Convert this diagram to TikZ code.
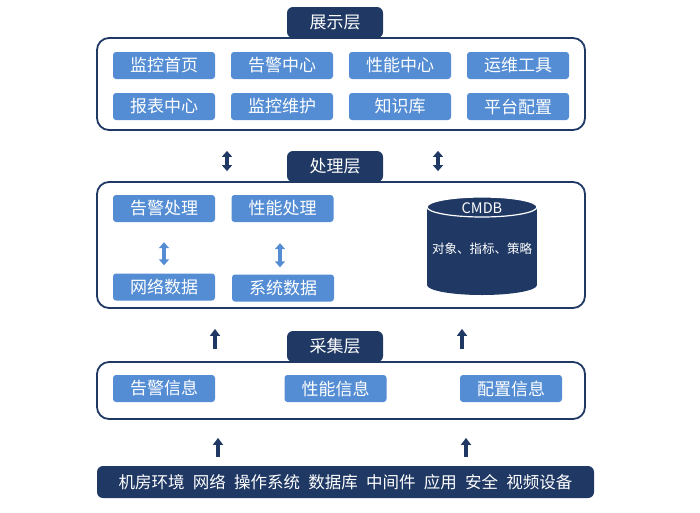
\documentclass[tikz,border=0pt]{standalone}
\usepackage{fontspec}
\setmainfont{Noto Sans CJK SC}
\usepackage{tikz}
\usepackage{xcolor}
\usetikzlibrary{arrows.meta, positioning, calc}

\definecolor{navy}{RGB}{31,56,100}
\definecolor{itemblue}{RGB}{84,141,212}

\begin{document}
\begin{tikzpicture}[x=1pt, y=-1pt,
    frame/.style={draw=navy, line width=1.8pt, fill=white, rounded corners=12pt, inner sep=0pt},
    item/.style={fill=itemblue, text=white, rounded corners=3pt, minimum width=102pt, minimum height=27pt, inner sep=0pt, font=\fontsize{17}{19}\selectfont},
    labtext/.style={text=white, font=\fontsize{17}{19}\selectfont},
    uparrow/.style={navy, line width=4pt, -{Triangle[length=7pt, width=10pt]}},
    dblarrow/.style={line width=4pt, {Triangle[length=6pt, width=10pt]}-{Triangle[length=6pt, width=10pt]}}]
\useasboundingbox (0,0) rectangle (700,512);

% layer frames
\node (f1) [frame, minimum width=488pt, minimum height=92pt] at (341,84) {};
\node (f2) [frame, minimum width=488pt, minimum height=126pt] at (341,245) {};
\node (f3) [frame, minimum width=488pt, minimum height=57pt] at (341,390.5) {};

% layer titles
\fill[navy, rounded corners=6pt] (287,38) |- (335,7) -| (383,38) -- cycle;
\node (l1) [labtext] at (335,22.5) {展示层};
\fill[navy, rounded corners=6pt] (287,182) |- (335,151) -| (383,182) -- cycle;
\node (l2) [labtext] at (335,166.5) {处理层};
\fill[navy, rounded corners=6pt] (287,362) |- (335,331) -| (383,362) -- cycle;
\node (l3) [labtext] at (335,346.5) {采集层};

% presentation layer
\foreach \t [count=\i] in {监控首页,告警中心,性能中心,运维工具} {
    \node (s\i) [item] at ({164+(\i-1)*118},65.5) {\t};
}
\foreach \t [count=\i] in {报表中心,监控维护,知识库,平台配置} {
    \node (r\i) [item] at ({164+(\i-1)*118},106.5) {\t};
}

% processing layer
\node (p1) [item] at (164,208.5) {告警处理};
\node (p2) [item] at (282.5,208.5) {性能处理};
\node (n1) [item] at (164,287) {网络数据};
\node (n2) [item] at (283,288) {系统数据};
\draw[dblarrow, itemblue, shorten <=20pt, shorten >=8pt] (p1.south) -- (n1.north);
\draw[dblarrow, itemblue, shorten <=21pt, shorten >=7pt] (p2.south -| 280,0) -- (n2.north -| 280,0);

% CMDB cylinder
\fill[navy] (427,207) rectangle (537,285);
\fill[navy] (482,285) ellipse[x radius=55, y radius=10];
\filldraw[fill=navy, draw=white, line width=1.2pt] (482,207) ellipse[x radius=55, y radius=10];
\node (cmdb) [text=white, font=\fontsize{14.5}{16}\selectfont] at (482,208) {CMDB};
\node (cmdbtxt) [text=white, font=\fontsize{12.5}{15}\selectfont] at (482,249) {对象、指标、策略};

% collection layer
\node (c1) [item] at (164,388.5) {告警信息};
\node (c2) [item] at (335.5,388.5) {性能信息};
\node (c3) [item] at (511,388.5) {配置信息};

% sources
\node (src) [fill=navy, text=white, rounded corners=6pt, minimum width=497pt, minimum height=32pt, inner sep=0pt, font=\fontsize{16.5}{18}\selectfont] at (345.5,482)
    {机房环境\enspace 网络\enspace 操作系统\enspace 数据库\enspace 中间件\enspace 应用\enspace 安全\enspace 视频设备};

% arrows between layers
\foreach \x in {227,438} {
    \draw[dblarrow, navy, shorten <=20pt, shorten >=10pt] (f1.south -| \x,0) -- (f2.north -| \x,0);
}
\foreach \x in {215,462} {
    \draw[uparrow, shorten <=12pt, shorten >=20pt] (f3.north -| \x,0) -- (f2.south -| \x,0);
}
\foreach \x in {218,466} {
    \draw[uparrow, shorten <=9pt, shorten >=18pt] (src.north -| \x,0) -- (f3.south -| \x,0);
}
\end{tikzpicture}
\end{document}
